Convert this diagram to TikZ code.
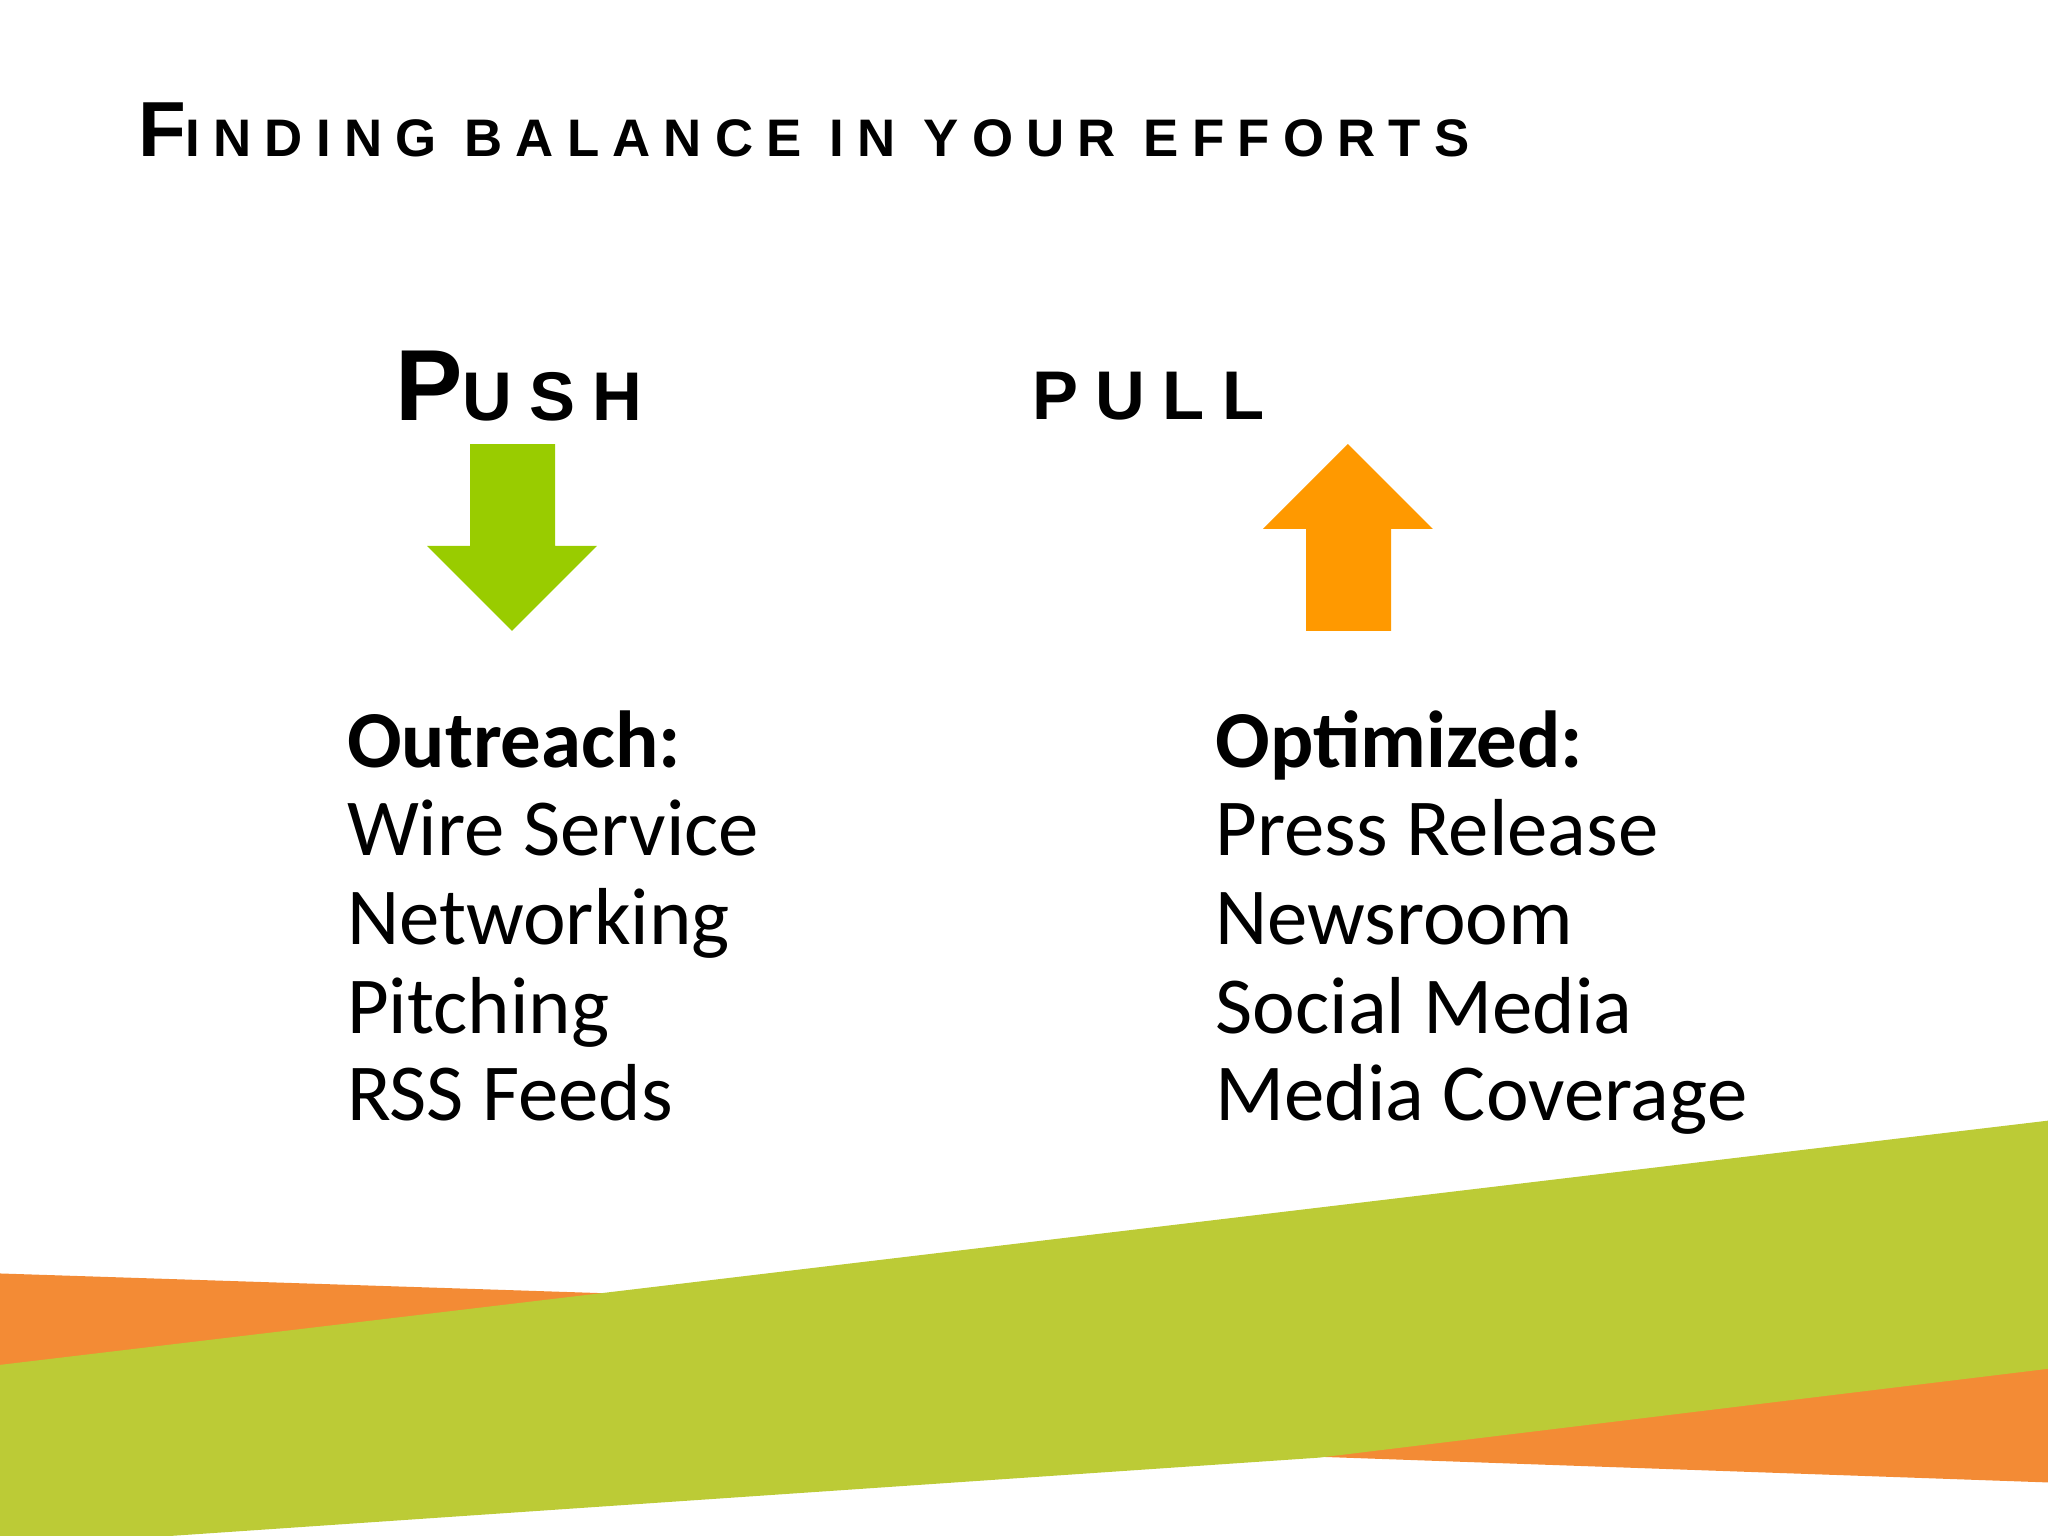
\documentclass[tikz,border=0pt]{standalone}
\usepackage{fontspec}
\setmainfont{Carlito}
\newfontfamily\titlefont[LetterSpace=25]{Liberation Sans}
\definecolor{pushgreen}{HTML}{99CC00}
\definecolor{pullorange}{HTML}{FF9900}
\definecolor{bandgreen}{HTML}{BCCB36}
\definecolor{bandorange}{HTML}{F38B35}
\tikzset{px/.style={x=0.01cm,y=-0.01cm},
 item/.style={anchor=base west,inner sep=0,font=\fontsize{17.6}{20}\selectfont}}
\begin{document}
\begin{tikzpicture}[px]
\useasboundingbox (0,0) rectangle (1568,1176);
\fill[bandorange] (0,975)--(520,992)--(0,1060)--cycle;
\fill[bandorange] (1000,1115)--(1568,1040)--(1568,1135)--cycle;
\fill[bandgreen] (0,1045)--(1568,858)--(1568,1048)--(1010,1116)--(130,1176)--(0,1176)--cycle;
\node[anchor=base west,inner sep=0] (title) at (105,120) {\titlefont\bfseries\fontsize{17}{17}\selectfont F\fontsize{11.5}{12}\selectfont INDING BALANCE IN YOUR EFFORTS};
\node[anchor=base west,inner sep=0] (push) at (302,322) {\titlefont\bfseries\fontsize{22}{22}\selectfont P\fontsize{15}{15}\selectfont USH};
\node[anchor=base west,inner sep=0] (pull) at (790,321) {\titlefont\bfseries\fontsize{15}{15}\selectfont PULL};
\fill[pushgreen] (360,340)--(425,340)--(425,418)--(457,418)--(392,483)--(327,418)--(360,418)--cycle;
\fill[pullorange] (1000,483)--(1065,483)--(1065,405)--(1097,405)--(1032,340)--(967,405)--(1000,405)--cycle;
\node[item] (o0) at (265,588) {\bfseries Outreach:};
\node[item] (o1) at (265,655) {Wire Service};
\node[item] (o2) at (265,723) {Networking};
\node[item] (o3) at (265,791) {Pitching};
\node[item] (o4) at (265,858) {RSS Feeds};
\node[item] (p0) at (930,588) {\bfseries Optimized:};
\node[item] (p1) at (930,655) {Press Release};
\node[item] (p2) at (930,723) {Newsroom};
\node[item] (p3) at (930,791) {Social Media};
\node[item] (p4) at (930,858) {Media Coverage};
\end{tikzpicture}
\end{document}
